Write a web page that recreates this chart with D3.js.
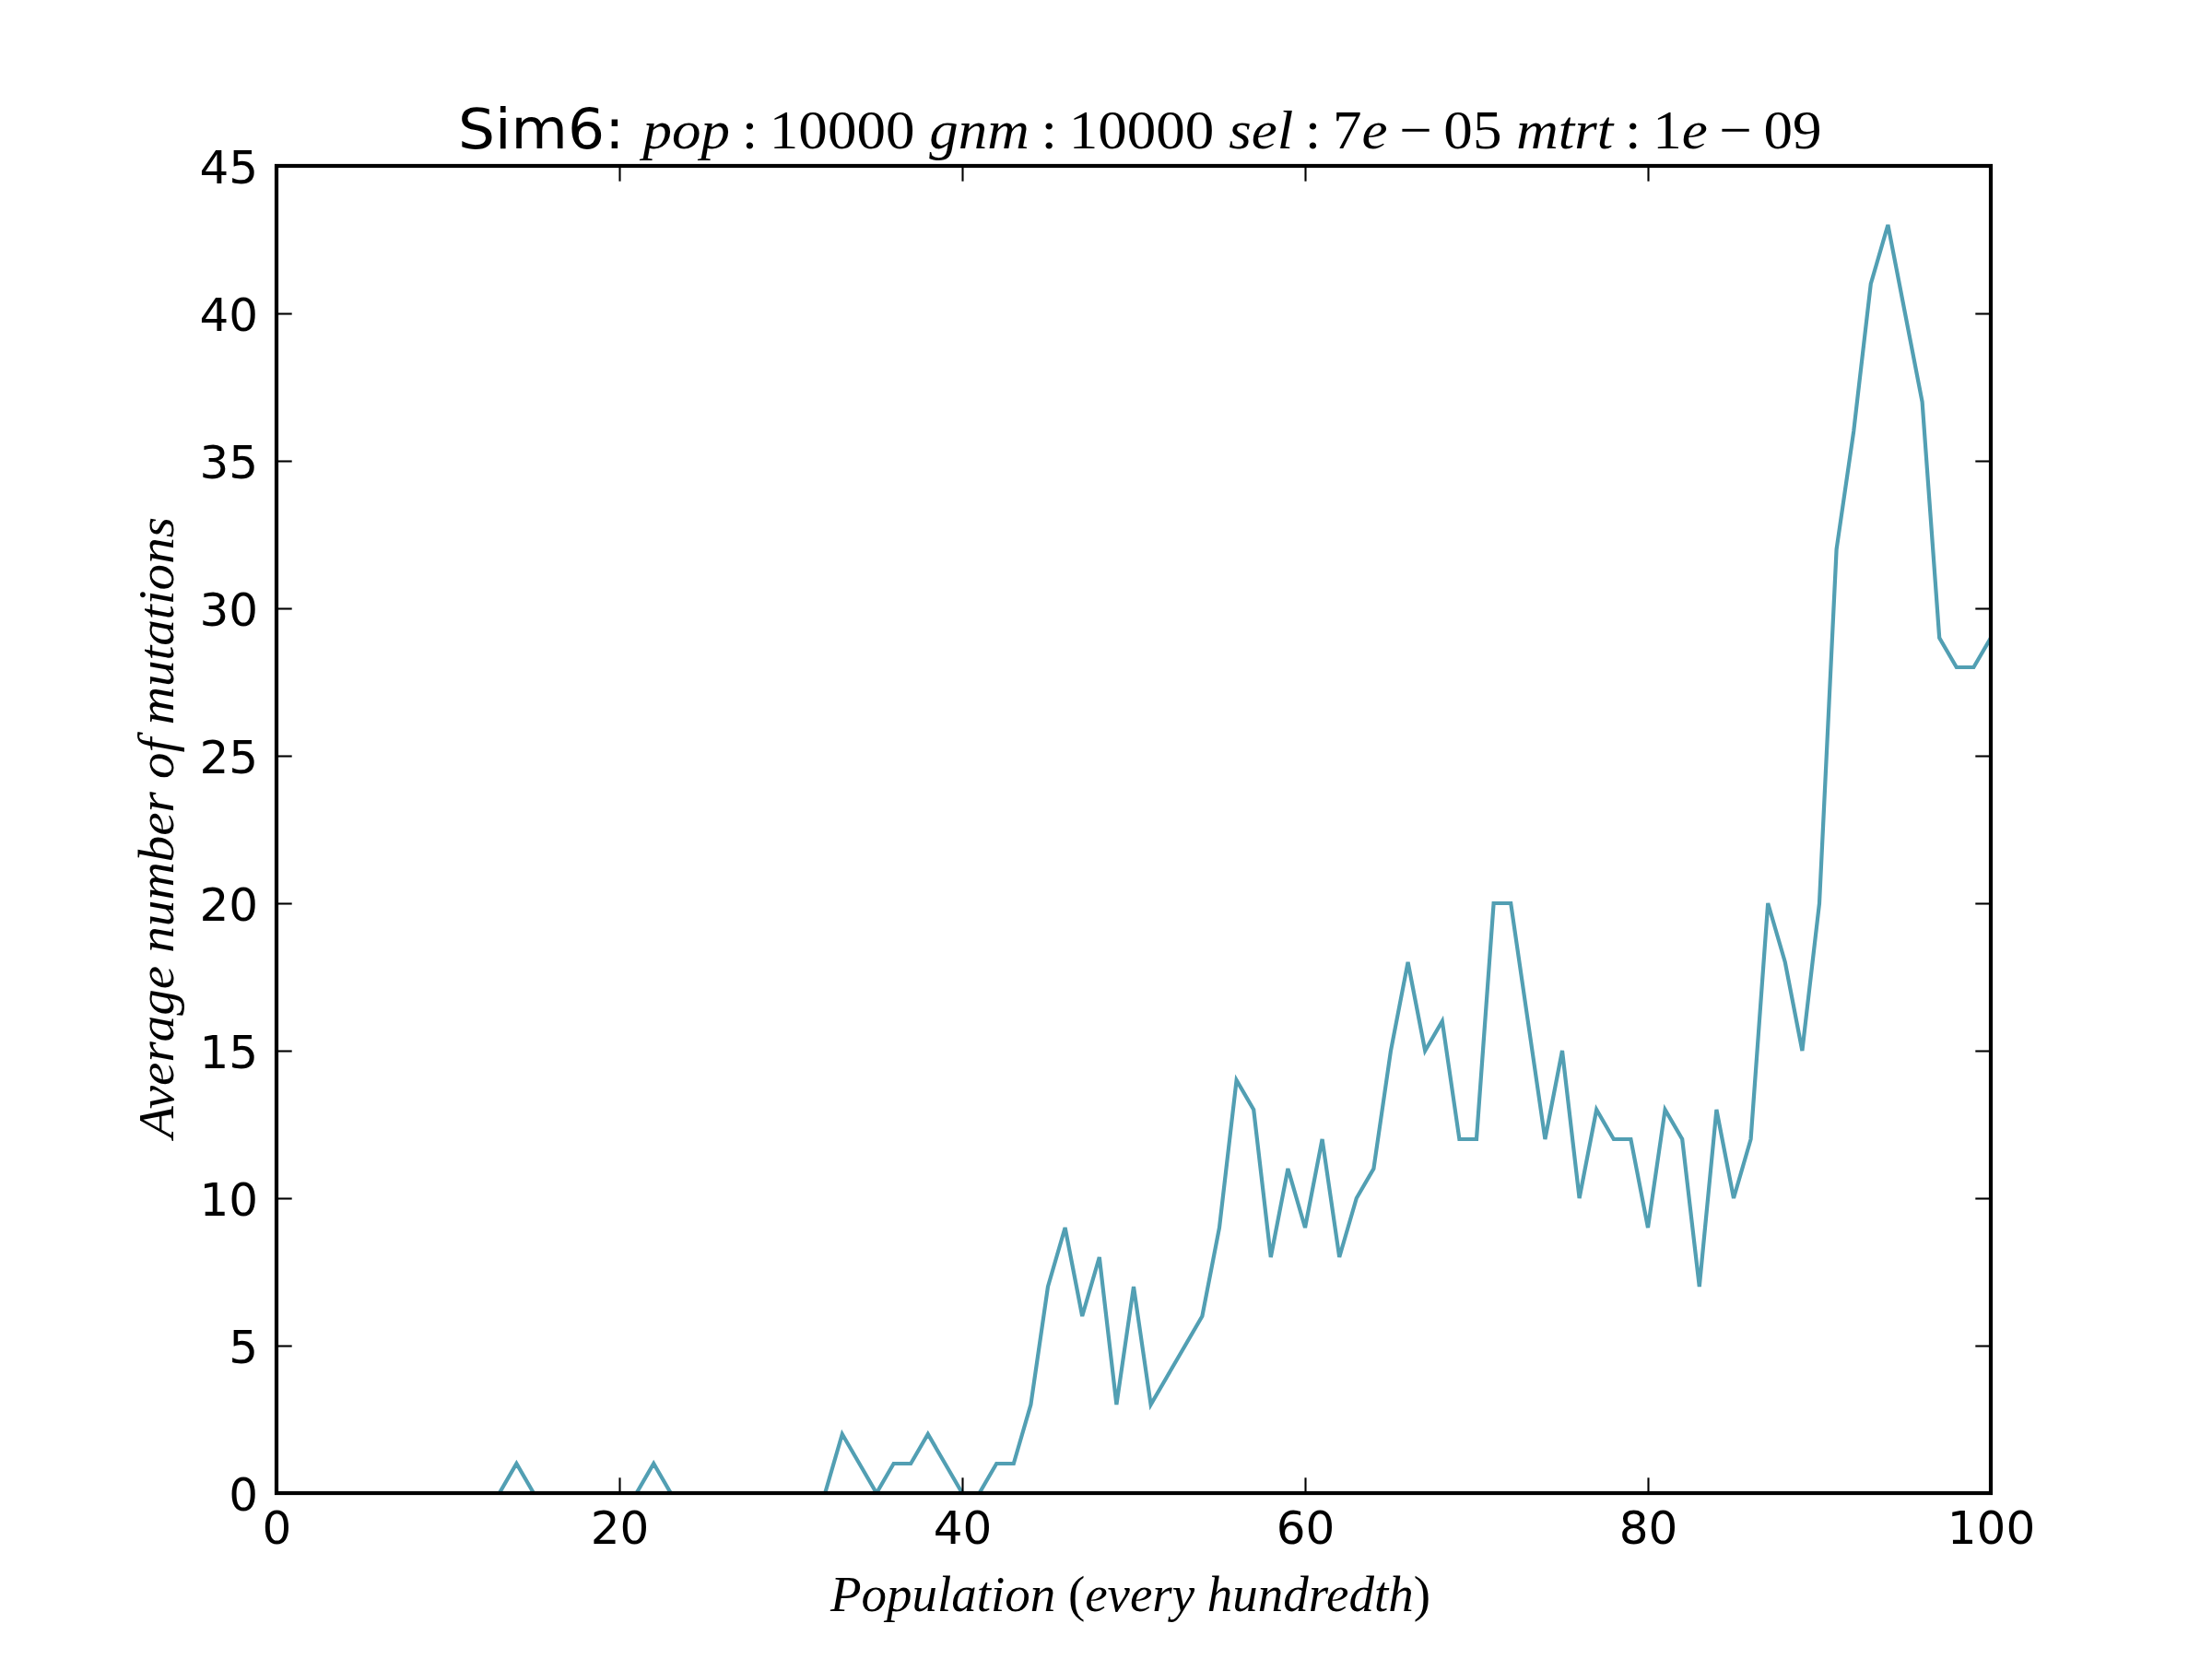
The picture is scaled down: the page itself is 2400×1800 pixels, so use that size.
<!DOCTYPE html>
<html>
<head>
<meta charset="utf-8">
<script src="https://cdn.jsdelivr.net/npm/d3@7"></script>
<style>
  body { margin: 0; background: #fff; }
  svg { display: block; }
</style>
</head>
<body>
<div id="chart"></div>
<script>
// average number of mutations, one value per population step 0..100
const mutations = [
  0, 0, 0, 0, 0, 0, 0, 0, 0, 0,
  0, 0, 0, 0, 1, 0, 0, 0, 0, 0,
  0, 0, 1, 0, 0, 0, 0, 0, 0, 0,
  0, 0, 0, 2, 1, 0, 1, 1, 2, 1,
  0, 0, 1, 1, 3, 7, 9, 6, 8, 3,
  7, 3, 4, 5, 6, 9, 14, 13, 8, 11,
  9, 12, 8, 10, 11, 15, 18, 15, 16, 12,
  12, 20, 20, 16, 12, 15, 10, 13, 12, 12,
  9, 13, 12, 7, 13, 10, 12, 20, 18, 15,
  20, 32, 36, 41, 43, 40, 37, 29, 28, 28,
  29
];
const xTicks = [0, 20, 40, 60, 80, 100];
const yTicks = [0, 5, 10, 15, 20, 25, 30, 35, 40, 45];

// title pieces: [text, style]  sans = plain label, it = math italic, rm = math roman
const titleParts = [
  ["Sim6: ", "sans"],
  ["pop", "it"], ["\u2009:\u200910000 ", "rm"],
  ["gnm", "it"], ["\u2009:\u200910000 ", "rm"],
  ["sel", "it"], ["\u2009:\u20097", "rm"], ["e", "it"], ["\u2009\u2212\u200905 ", "rm"],
  ["mtrt", "it"], ["\u2009:\u20091", "rm"], ["e", "it"], ["\u2009\u2212\u200909", "rm"]
];
const xLabelParts = [["Population ", "it"], ["(", "rm"], ["every hundredth", "it"], [")", "rm"]];
const yLabelParts = [["Average number of mutations", "it"]];

const width = 2400, height = 1800;
const margin = {top: 180, right: 240, bottom: 180, left: 300};
const lineColor = "#529fb3";
const sansFont = "'DejaVu Sans', sans-serif";
const serifFont = "'Liberation Serif', 'DejaVu Serif', serif";

const svg = d3.select("#chart").append("svg")
  .attr("width", width)
  .attr("height", height)
  .attr("viewBox", [0, 0, width, height]);

svg.append("rect").attr("width", width).attr("height", height).attr("fill", "#fff");

const x = d3.scaleLinear().domain([0, 100]).range([margin.left, width - margin.right]);
const y = d3.scaleLinear().domain([0, 45]).range([height - margin.bottom, margin.top]);

svg.append("clipPath").attr("id", "plot-clip")
  .append("rect")
  .attr("x", x(0)).attr("y", y(45))
  .attr("width", x(100) - x(0)).attr("height", y(0) - y(45));

// the line
const line = d3.line().x((d, i) => x(i)).y(d => y(d));
svg.append("path")
  .datum(mutations)
  .attr("clip-path", "url(#plot-clip)")
  .attr("fill", "none")
  .attr("stroke", lineColor)
  .attr("stroke-width", 4.2)
  .attr("stroke-linejoin", "miter")
  .attr("d", line);

// axes: inward ticks on all four sides
const tickLen = 16.7;
const styleAxis = g => {
  g.select(".domain").remove();
  g.selectAll(".tick line").attr("stroke", "#000").attr("stroke-width", 2.1);
  g.selectAll(".tick text")
    .attr("fill", "#000")
    .attr("font-family", sansFont)
    .attr("font-size", 50);
};

svg.append("g")
  .attr("transform", `translate(0,${y(0)})`)
  .call(d3.axisBottom(x).tickValues(xTicks).tickFormat(d3.format("d"))
    .tickSizeInner(-tickLen).tickSizeOuter(0))
  .call(styleAxis)
  .call(g => g.selectAll(".tick text").attr("dy", 0).attr("y", 55));

svg.append("g")
  .attr("transform", `translate(0,${y(45)})`)
  .call(d3.axisTop(x).tickValues(xTicks).tickFormat("").tickSizeInner(-tickLen).tickSizeOuter(0))
  .call(styleAxis);

svg.append("g")
  .attr("transform", `translate(${x(0)},0)`)
  .call(d3.axisLeft(y).tickValues(yTicks).tickFormat(d3.format("d"))
    .tickSizeInner(-tickLen).tickSizeOuter(0))
  .call(styleAxis)
  .call(g => g.selectAll(".tick text").attr("x", -20).attr("dy", "0.36em"));

svg.append("g")
  .attr("transform", `translate(${x(100)},0)`)
  .call(d3.axisRight(y).tickValues(yTicks).tickFormat("").tickSizeInner(-tickLen).tickSizeOuter(0))
  .call(styleAxis);

// frame
svg.append("rect")
  .attr("x", x(0)).attr("y", y(45))
  .attr("width", x(100) - x(0)).attr("height", y(0) - y(45))
  .attr("fill", "none")
  .attr("stroke", "#000")
  .attr("stroke-width", 4.2);

// mixed text (plain + math-like) stretched to the width seen in the picture
function mixedText(parts, size, left, baseline, targetWidth, rotate) {
  const g = svg.append("g");
  const t = g.append("text")
    .attr("x", 0).attr("y", 0)
    .attr("font-size", size)
    .attr("fill", "#000")
    .style("white-space", "pre");
  parts.forEach(([s, kind]) => {
    t.append("tspan")
      .text(s)
      .attr("font-family", kind === "sans" ? sansFont : serifFont)
      .attr("font-style", kind === "it" ? "italic" : "normal");
  });
  const w = t.node().getComputedTextLength();
  const sx = targetWidth / w;
  if (rotate) {
    g.attr("transform", `translate(${baseline},${left}) rotate(-90) scale(${sx},1)`);
  } else {
    g.attr("transform", `translate(${left},${baseline}) scale(${sx},1)`);
  }
}

mixedText(titleParts, 60, 497, 161, 1480, false);
mixedText(xLabelParts, 54, 901, 1748, 651, false);
mixedText(yLabelParts, 54, 1235, 188, 674, true);
</script>
</body>
</html>
